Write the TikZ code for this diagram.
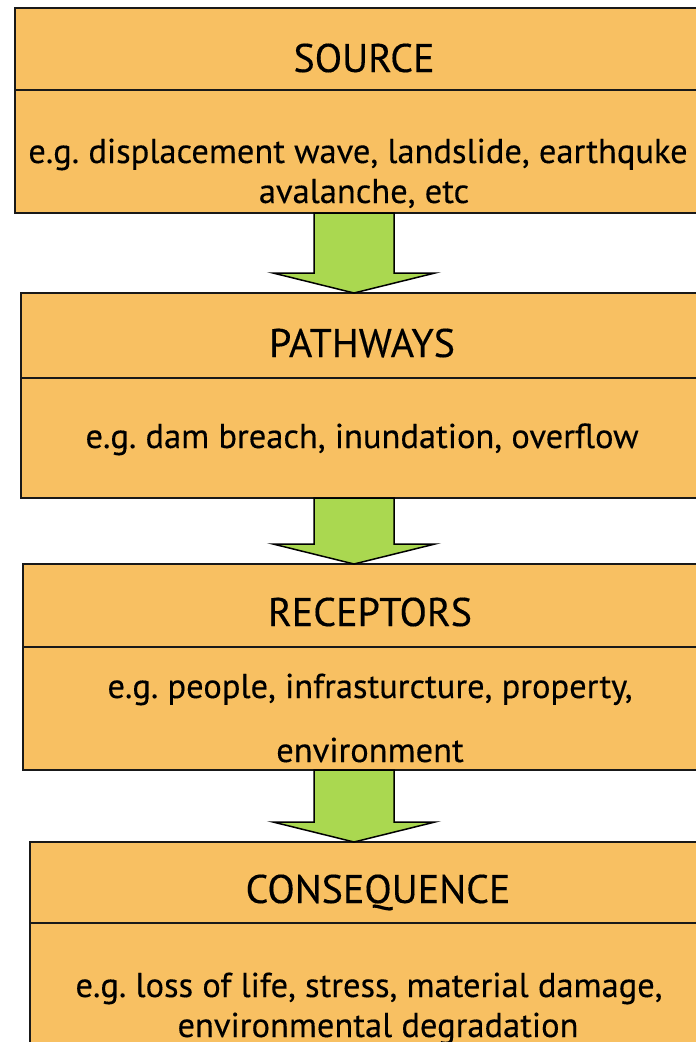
\documentclass[tikz,border=0pt]{standalone}
\usepackage{fontspec}
\setmainfont[FakeBold=0.3]{PT Sans}
\usetikzlibrary{calc}
\definecolor{boxfill}{RGB}{248,192,98}
\definecolor{arrowfill}{RGB}{170,216,80}
\definecolor{edge}{RGB}{25,25,25}
\frenchspacing
\begin{document}
\begin{tikzpicture}[x=1pt,y=-1pt,
  panel/.style={draw=edge, line width=2pt, fill=boxfill, rectangle, inner sep=0pt, outer sep=0pt, anchor=north west},
  headtext/.style={font=\fontsize{40}{46}\selectfont, anchor=base, inner sep=0pt},
  bodytext/.style={font=\fontsize{34.5}{40}\selectfont, anchor=base, inner sep=0pt},
  garrow/.style={draw=black, line width=1.5pt, fill=arrowfill, line join=miter}]
\useasboundingbox (0,0) rectangle (696,1042);
\clip (0,0) rectangle (696,1042);
\fill[white] (0,0) rectangle (696,1042);
% boxes
\node[panel, minimum width=698pt, minimum height=82pt] (s1) at (15,8) {};
\node[panel, minimum width=698pt, minimum height=123pt] (s1b) at (15,90) {};
\node[panel, minimum width=682pt, minimum height=85pt] (p1) at (21,293) {};
\node[panel, minimum width=682pt, minimum height=120pt] (p1b) at (21,378) {};
\node[panel, minimum width=694pt, minimum height=83pt] (r1) at (23,564) {};
\node[panel, minimum width=694pt, minimum height=123pt] (r1b) at (23,647) {};
\node[panel, minimum width=696pt, minimum height=81pt] (c1) at (30,842) {};
\node[panel, minimum width=696pt, minimum height=160pt] (c1b) at (30,923) {};
% texts
\node[headtext] (st) at ($(s1.north)+(0,64)$) {SOURCE};
\node[bodytext] (sx1) at ($(s1b.north)+(-6,73)$) {e.g. displacement wave, landslide, earthquke};
\node[bodytext] (sx2) at ($(s1b.north)+(0,113)$) {avalanche, etc};
\node[headtext] (pt) at ($(p1.north)+(0,64)$) {PATHWAYS};
\node[bodytext] (px1) at ($(p1b.north)+(0,70)$) {e.g. dam breach, inundation, overflow};
\node[headtext] (rt) at ($(r1.north)+(0,62)$) {RECEPTORS};
\node[bodytext] (rx1) at ($(r1b.north)+(0,51)$) {e.g. people, infrasturcture, property,};
\node[bodytext] (rx2) at ($(r1b.north)+(0,115)$) {environment};
\node[headtext] (ct) at ($(c1.north)+(0,61)$) {CONSEQUENCE};
\node[bodytext] (cx1) at ($(c1b.north)+(-9,74)$) {e.g. loss of life, stress, material damage,};
\node[bodytext] (cx2) at ($(c1b.north)+(0,114)$) {environmental degradation};
% arrows
\coordinate (ax) at (354,0);
\foreach \a/\b in {s1b/p1, p1b/r1, r1b/c1}{
  \draw[garrow] let \p1=(\a.south -| ax), \p2=(\b.north -| ax) in
    (\x1-40pt,\y1) -- (\x1-40pt,\y2+20pt) -- (\x1-81pt,\y2+20pt) -- (\p2)
    -- (\x1+81pt,\y2+20pt) -- (\x1+40pt,\y2+20pt) -- (\x1+40pt,\y1) -- cycle;
}
\end{tikzpicture}
\end{document}
